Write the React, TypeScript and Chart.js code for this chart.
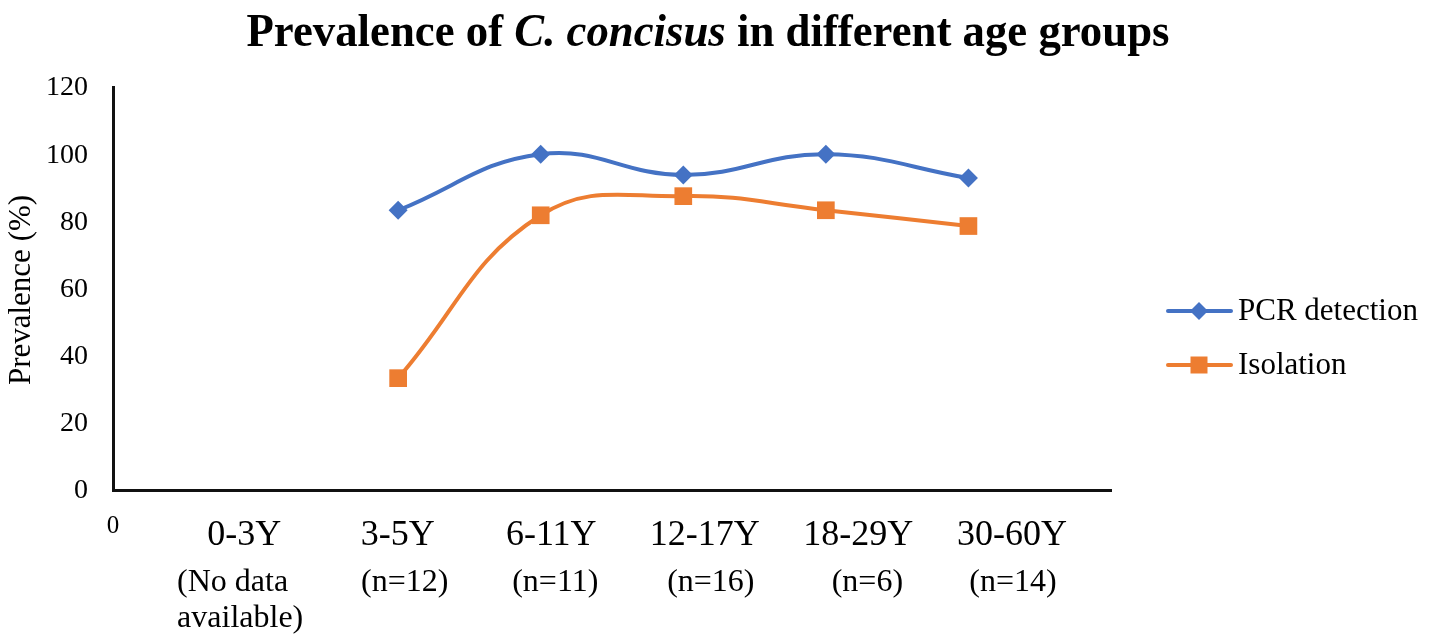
import React, { useEffect, useRef } from "react";
import { Chart, registerables } from "chart.js";

Chart.register(...registerables);

// ---- data ----
const categories = ["0-3Y", "3-5Y", "6-11Y", "12-17Y", "18-29Y", "30-60Y"];
const subLabels: string[][] = [
  ["(No data", "available)"],
  ["(n=12)"],
  ["(n=11)"],
  ["(n=16)"],
  ["(n=6)"],
  ["(n=14)"],
];
const pcrDetection: (number | null)[] = [null, 83.3, 100, 93.8, 100, 92.9];
const isolation: (number | null)[] = [null, 33.3, 81.8, 87.5, 83.3, 78.6];
const yTicks = [0, 20, 40, 60, 80, 100, 120];
const seriesNames = ["PCR detection", "Isolation"];
const titleParts = [
  { text: "Prevalence of ", italic: false },
  { text: "C. concisus", italic: true },
  { text: " in different age groups", italic: false },
];
const yAxisTitle = "Prevalence (%)";
const xOriginLabel = "0";

// ---- styling ----
const BLUE = "#4472C4";
const ORANGE = "#ED7D31";
const FONT = "'Liberation Serif', 'Times New Roman', serif";
const LABEL_START = 0.92; // category text boxes sit slightly off the point positions
const LABEL_STEP = 1.077;
const SUB_SHIFT = [-4, 7, 4, 6, 9, 1];

const toPoints = (vals: (number | null)[]) =>
  vals.map((v, i) => ({ x: i + 1, y: v }));

const overlayPlugin = {
  id: "overlay",
  afterDraw(chart: any) {
    const ctx: CanvasRenderingContext2D = chart.ctx;
    const xs = chart.scales.x;
    const ys = chart.scales.y;
    const area = chart.chartArea;
    ctx.save();
    ctx.fillStyle = "#000";

    // title
    let total = 0;
    const fontFor = (it: boolean) => `${it ? "italic " : ""}bold 47px ${FONT}`;
    for (const p of titleParts) {
      ctx.font = fontFor(p.italic);
      total += ctx.measureText(p.text).width;
    }
    const targetW = 923;
    const sx = targetW / total;
    ctx.save();
    ctx.translate(708 - targetW / 2, 46);
    ctx.scale(sx, 1);
    ctx.textAlign = "left";
    ctx.textBaseline = "alphabetic";
    let cx = 0;
    for (const p of titleParts) {
      ctx.font = fontFor(p.italic);
      ctx.fillText(p.text, cx, 0);
      cx += ctx.measureText(p.text).width;
    }
    ctx.restore();

    // y ticks
    ctx.font = `28px ${FONT}`;
    ctx.textAlign = "right";
    ctx.textBaseline = "middle";
    for (const t of yTicks) {
      ctx.fillText(String(t), area.left - 25, ys.getPixelForValue(t) + 1);
    }

    // y title
    ctx.save();
    ctx.translate(22, 290);
    ctx.rotate(-Math.PI / 2);
    ctx.font = `31px ${FONT}`;
    ctx.textAlign = "center";
    ctx.textBaseline = "middle";
    ctx.fillText(yAxisTitle, 0, 0);
    ctx.restore();

    // x origin label
    ctx.font = `25px ${FONT}`;
    ctx.textAlign = "center";
    ctx.textBaseline = "alphabetic";
    ctx.fillText(xOriginLabel, xs.getPixelForValue(0), area.bottom + 43);

    // category labels
    categories.forEach((c, i) => {
      const px = xs.getPixelForValue(LABEL_START + LABEL_STEP * i);
      ctx.font = `36px ${FONT}`;
      ctx.textAlign = "center";
      ctx.fillText(c, px, area.bottom + 55);
      ctx.font = `32px ${FONT}`;
      const lines = subLabels[i];
      const maxW = Math.max(...lines.map((l) => ctx.measureText(l).width));
      const left = px + SUB_SHIFT[i] - maxW / 2;
      ctx.textAlign = "left";
      lines.forEach((l, j) => {
        ctx.fillText(l, left, area.bottom + 101 + j * 36);
      });
    });

    // legend
    const legendItems = [
      { name: seriesNames[0], color: BLUE, shape: "diamond", y: 311 },
      { name: seriesNames[1], color: ORANGE, shape: "square", y: 365 },
    ];
    for (const it of legendItems) {
      ctx.strokeStyle = it.color;
      ctx.lineWidth = 4;
      ctx.lineCap = "round";
      ctx.beginPath();
      ctx.moveTo(1168, it.y);
      ctx.lineTo(1231, it.y);
      ctx.stroke();
      ctx.fillStyle = it.color;
      ctx.beginPath();
      const mx = 1199;
      if (it.shape === "diamond") {
        const r = 9;
        ctx.moveTo(mx - r, it.y);
        ctx.lineTo(mx, it.y - r);
        ctx.lineTo(mx + r, it.y);
        ctx.lineTo(mx, it.y + r);
        ctx.closePath();
      } else {
        const h = 8.5;
        ctx.rect(mx - h, it.y - h, 2 * h, 2 * h);
      }
      ctx.fill();
      ctx.fillStyle = "#000";
      ctx.font = `31px ${FONT}`;
      ctx.textAlign = "left";
      ctx.textBaseline = "middle";
      ctx.fillText(it.name, 1238, it.y + 1);
    }

    ctx.restore();
  },
};

export default function App() {
  const ref = useRef<HTMLCanvasElement | null>(null);

  useEffect(() => {
    document.body.style.margin = "0";
    const canvas = ref.current;
    if (!canvas) return;
    const chart = new Chart(canvas, {
      type: "line",
      data: {
        datasets: [
          {
            label: seriesNames[0],
            data: toPoints(pcrDetection) as any,
            borderColor: BLUE,
            backgroundColor: BLUE,
            borderWidth: 4,
            tension: 0.42,
            pointStyle: "rectRot",
            pointRadius: 9.5,
            pointBorderWidth: 0,
            pointBackgroundColor: BLUE,
            spanGaps: false,
          },
          {
            label: seriesNames[1],
            data: toPoints(isolation) as any,
            borderColor: ORANGE,
            backgroundColor: ORANGE,
            borderWidth: 4,
            tension: 0.42,
            pointStyle: "rect",
            pointRadius: 12.5,
            pointBorderWidth: 0,
            pointBackgroundColor: ORANGE,
            spanGaps: false,
          },
        ],
      },
      options: {
        responsive: false,
        animation: false,
        layout: { padding: { left: 113, right: 318, top: 87, bottom: 152 } },
        plugins: {
          legend: { display: false },
          title: { display: false },
          tooltip: { enabled: false },
        },
        scales: {
          x: {
            type: "linear",
            min: 0,
            max: 7,
            grid: { display: false, drawTicks: false },
            border: { display: true, color: "#111", width: 3 },
            ticks: { display: false },
            afterFit: (s: any) => {
              s.height = 0;
            },
          },
          y: {
            type: "linear",
            min: 0,
            max: 120,
            grid: { display: false, drawTicks: false },
            border: { display: true, color: "#111", width: 3 },
            ticks: { display: false, stepSize: 20 },
            afterFit: (s: any) => {
              s.width = 0;
            },
          },
        },
      },
      plugins: [overlayPlugin],
    });
    return () => chart.destroy();
  }, []);

  return (
    <div style={{ width: 1429, height: 642, background: "#fff" }}>
      <canvas ref={ref} width={1429} height={642} style={{ display: "block" }} />
    </div>
  );
}
